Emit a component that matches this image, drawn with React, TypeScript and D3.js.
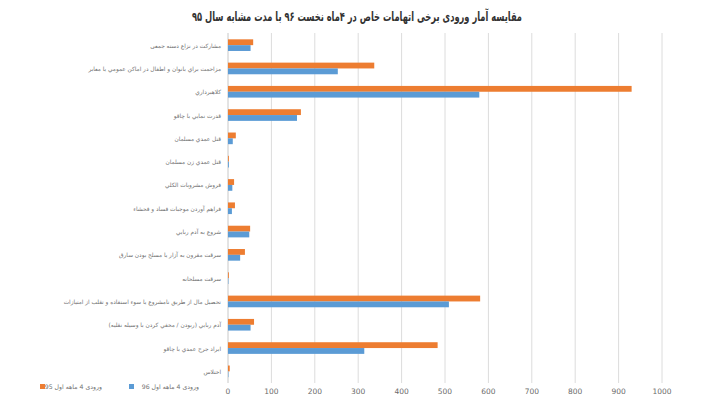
import React from "react";
import * as d3 from "d3";

const title = "مقایسه آمار ورودی  برخی اتهامات خاص در ۴ماه نخست ۹۶ با مدت مشابه سال ۹۵";

const categories = [
  "مشارکت در نزاع دسته جمعی",
  "مزاحمت براي بانوان و اطفال در اماكن عمومي يا معابر",
  "کلاهبرداري",
  "قدرت نمايي با چاقو",
  "قتل عمدي مسلمان",
  "قتل عمدي زن مسلمان",
  "فروش مشروبات الكلي",
  "فراهم آوردن موجبات فساد و فحشاء",
  "شروع به آدم ربايي",
  "سرقت مقرون به آزار يا مسلح بودن سارق",
  "سرقت مسلحانه",
  "تحصيل مال از طريق نامشروع يا سوء استفاده و تقلب از امتيازات",
  "آدم ربايي (ربودن / مخفي كردن  با وسيله نقليه)",
  "ايراد جرح عمدي با چاقو",
  "اختلاس",
];

const values95 = [58, 337, 930, 168, 18, 2, 14, 16, 51, 39, 2, 581, 60, 483, 4];
const values96 = [52, 253, 579, 159, 11, 2, 10, 9, 49, 28, 1, 509, 52, 314, 1];

const xTicks = [0, 100, 200, 300, 400, 500, 600, 700, 800, 900, 1000];

const seriesNames = ["ورودی 4 ماهه اول 95", "ورودی 4 ماهه اول 96"];
const seriesColors = ["#ED7D31", "#5B9BD5"];

export default function App() {
  const W = 708;
  const H = 400;
  const x = d3.scaleLinear().domain([0, 1000]).range([228, 662]);
  const y = d3
    .scaleBand<string>()
    .domain(categories)
    .range([33.5, 383])
    .paddingInner(0.5)
    .paddingOuter(0.25);
  const sub = d3.scaleBand<string>().domain(["95", "96"]).range([0, y.bandwidth()]);
  const font = "'DejaVu Sans', sans-serif";

  return (
    <svg
      width={W}
      height={H}
      style={{ position: "absolute", left: 0, top: 0, background: "#fff" }}
      fontFamily={font}
    >
      <rect x={0} y={0} width={W} height={H} fill="#fff" />
      <text
        x={357}
        y={21}
        textAnchor="middle"
        direction="rtl"
        fontSize={13}
        fontWeight="bold"
        fill="#333333"
        textLength={330}
        lengthAdjust="spacingAndGlyphs"
      >
        {title}
      </text>
      {xTicks.map((t) => (
        <g key={t}>
          <line x1={x(t)} x2={x(t)} y1={33} y2={383} stroke={t === 0 ? "#c8c8c8" : "#dcdcdc"} strokeWidth={1} />
          <text x={x(t)} y={394} textAnchor="middle" fontSize={7.5} fill="#6b6b6b">
            {t}
          </text>
        </g>
      ))}
      {categories.map((c, i) => {
        const y0 = y(c) as number;
        return (
          <g key={c}>
            <rect
              x={x(0)}
              y={y0 + (sub("95") as number)}
              width={x(values95[i]) - x(0)}
              height={sub.bandwidth()}
              fill={seriesColors[0]}
            />
            <rect
              x={x(0)}
              y={y0 + (sub("96") as number)}
              width={x(values96[i]) - x(0)}
              height={sub.bandwidth()}
              fill={seriesColors[1]}
            />
            <text
              x={221}
              y={y0 + y.bandwidth() / 2 + 2.5}
              direction="rtl"
              textAnchor="start"
              fontSize={5.8}
              fill="#707070"
            >
              {c}
            </text>
          </g>
        );
      })}
      {seriesNames.map((s, i) => {
        const lx = i === 0 ? 40 : 129;
        const tx = i === 0 ? 102 : 199;
        return (
          <g key={s}>
            <rect x={lx} y={384} width={5} height={5} fill={seriesColors[i]} />
            <text x={tx} y={389} direction="rtl" textAnchor="start" fontSize={6.2} fill="#707070">
              {s}
            </text>
          </g>
        );
      })}
    </svg>
  );
}
